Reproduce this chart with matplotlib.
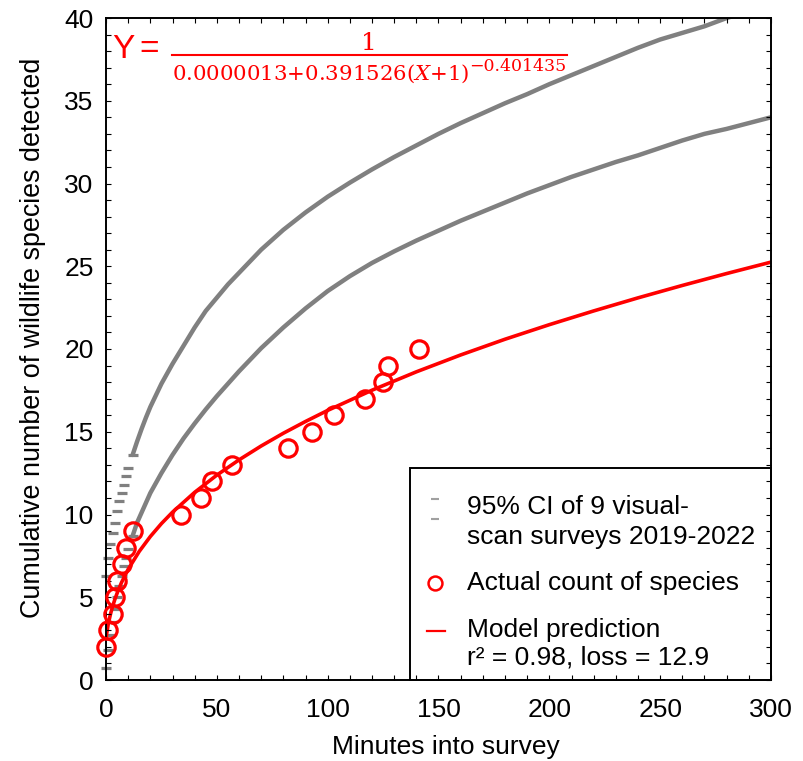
import matplotlib
matplotlib.use("Agg")
import matplotlib.pyplot as plt
from matplotlib.patches import Rectangle
from matplotlib.lines import Line2D
from matplotlib.ticker import MultipleLocator

plt.rcParams['font.family'] = ['Liberation Sans', 'DejaVu Sans']
plt.rcParams['mathtext.fontset'] = 'dejavuserif'

# actual counts of species
minutes_obs = [0, 1, 3, 4, 5, 7, 9, 12, 34, 43, 48, 57, 82, 93, 103, 117, 125, 127, 141]
count_obs = [2, 3, 4, 5, 6, 7, 8, 9, 10, 11, 12, 13, 14, 15, 16, 17, 18, 19, 20]

# 95% CI of 9 surveys
minutes_ci = [0, 1, 2, 3, 4, 5, 6, 7, 8, 9, 10, 12, 14, 16, 18, 20, 25, 30, 35, 40, 45, 50, 55, 60,
              70, 80, 90, 100, 110, 120, 130, 140, 150, 160, 170, 180, 190, 200, 210, 220, 230,
              240, 250, 260, 270, 280, 290, 300]
ci_upper = [6.3, 7.4, 8.2, 8.9, 9.5, 10.2, 10.8, 11.3, 11.8, 12.3, 12.8, 13.6, 14.4, 15.15, 15.85, 16.5,
            17.9, 19.1, 20.2, 21.3, 22.3, 23.1, 23.9, 24.6, 26.0, 27.2, 28.25, 29.2, 30.05, 30.85,
            31.6, 32.3, 33.0, 33.65, 34.25, 34.85, 35.4, 36.0, 36.55, 37.1, 37.65, 38.2, 38.7, 39.1,
            39.5, 40.0, 40.4, 40.8]
ci_lower = [0.7, 1.8, 2.7, 3.5, 4.3, 5.0, 5.7, 6.3, 6.9, 7.4, 7.9, 8.7, 9.5, 10.1, 10.7, 11.3,
            12.5, 13.6, 14.6, 15.5, 16.35, 17.15, 17.9, 18.65, 20.05, 21.3, 22.45, 23.5, 24.4, 25.2,
            25.9, 26.55, 27.15, 27.75, 28.3, 28.85, 29.4, 29.9, 30.4, 30.85, 31.3, 31.7, 32.15, 32.6,
            33.0, 33.3, 33.65, 34.0]

# model prediction
minutes_model = [0, 1, 2, 3, 4, 5, 7, 10, 15, 20, 25, 30, 40, 50, 60, 70, 80, 90, 100, 120, 140,
                 160, 180, 200, 220, 240, 260, 280, 300]
model_pred = [2.55, 3.37, 3.97, 4.46, 4.87, 5.24, 5.89, 6.69, 7.77, 8.67, 9.45, 10.14, 11.34, 12.38,
              13.30, 14.14, 14.91, 15.62, 16.29, 17.51, 18.62, 19.64, 20.59, 21.47, 22.30, 23.09,
              23.84, 24.56, 25.25]

W, H = 804, 761
AX_L, AX_R, AX_T, AX_B = 106, 771, 18, 680
GRAY = '#808080'
FS = 19


def fx(px):
    return px / W


def fy(py):
    return 1 - py / H


def ax_x(px):
    return (px - AX_L) / (AX_R - AX_L)


def ax_y(py):
    return (AX_B - py) / (AX_B - AX_T)


fig = plt.figure(figsize=(W / 100, H / 100), dpi=100)
ax = fig.add_axes([fx(AX_L), fy(AX_B), (AX_R - AX_L) / W, (AX_B - AX_T) / H])

# CI bands: separate dashes at the steep start, thick band afterwards
for ci in (ci_upper, ci_lower):
    ax.plot(minutes_ci[:12], ci[:12], ls='none', marker='_', ms=7.5, mew=2.3, color=GRAY, clip_on=False)
    ax.plot(minutes_ci[11:], ci[11:], lw=3.2, color=GRAY, solid_capstyle='round',
            solid_joinstyle='round')

ax.plot(minutes_model, model_pred, color='red', lw=2.6)
ax.plot(minutes_obs, count_obs, ls='none', marker='o', ms=12.5, mfc='none', mec='red', mew=2.3,
        clip_on=False, zorder=4)

ax.set_xlim(0, 300)
ax.set_ylim(0, 40)
ax.xaxis.set_major_locator(MultipleLocator(50))
ax.xaxis.set_minor_locator(MultipleLocator(10))
ax.yaxis.set_major_locator(MultipleLocator(5))
ax.yaxis.set_minor_locator(MultipleLocator(1))
ax.set_axisbelow(False)
ax.tick_params(which='both', direction='in', top=True, right=True, length=3.6, width=0.8,
               labelsize=FS)
ax.tick_params(axis='x', pad=13)
ax.tick_params(axis='y', pad=9)
for sp in ax.spines.values():
    sp.set_linewidth(1.4)

fig.text(fx(33), fy(338), 'Cumulative number of wildlife species detected', rotation=90,
         ha='center', va='center', fontsize=19.4)
fig.text(fx(446), fy(747), 'Minutes into survey', ha='center', va='center', fontsize=FS)

# equation
fig.text(fx(112), fy(49), 'Y', color='red', fontsize=24, ha='left', va='center')
fig.text(fx(139), fy(49), '=', color='red', fontsize=24, ha='left', va='center')
fig.text(fx(369), fy(43), '1', color='red', fontsize=18, ha='center', va='center',
         family='DejaVu Serif')
fig.add_artist(Line2D([fx(172), fx(567)], [fy(54.5), fy(54.5)], color='red', lw=1.5))
fig.text(fx(172), fy(80), r'0.0000013+0.391526($X$+1)', color='red', fontsize=15.3,
         ha='left', va='baseline', family='DejaVu Serif')
fig.text(fx(469), fy(71), '\u22120.401435', color='red', fontsize=12.5, ha='left',
         va='baseline', family='DejaVu Serif')

# legend box
ax.add_patch(Rectangle((ax_x(410), 0), 1 - ax_x(410), ax_y(468), transform=ax.transAxes,
                       fc='white', ec='black', lw=1.4, zorder=2.3, clip_on=False))
ax.plot([ax_x(435)] * 2, [ax_y(499), ax_y(519)], ls='none', marker='_', ms=6, mew=1.5,
        color='#a0a0a0', transform=ax.transAxes, zorder=3)
ax.plot(ax_x(435), ax_y(583), ls='none', marker='o', ms=10, mfc='none', mec='red', mew=1.8,
        transform=ax.transAxes, zorder=3)
ax.plot([ax_x(427), ax_x(445)], [ax_y(631)] * 2, color='red', lw=1.6, transform=ax.transAxes,
        zorder=3)
legend_texts = [(507, '95% CI of 9 visual-'), (537, 'scan surveys 2019-2022'),
                (583, 'Actual count of species'), (630, 'Model prediction'),
                (658, 'r\u00b2 = 0.98, loss = 12.9')]
for py, s in legend_texts:
    ax.text(ax_x(467), ax_y(py), s, transform=ax.transAxes, ha='left', va='center', fontsize=FS,
            zorder=3)

fig.savefig('out.png', dpi=100)
